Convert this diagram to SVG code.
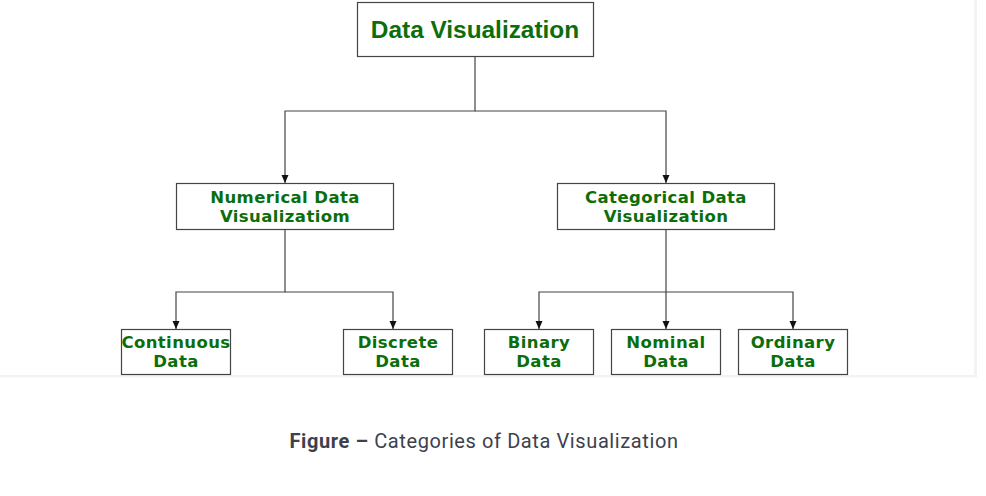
<svg xmlns="http://www.w3.org/2000/svg" width="986" height="496" viewBox="0 0 986 496">
<style>
.box{fill:#fff;stroke:#444;stroke-width:1.2}
.t{font-family:"DejaVu Sans",Verdana,sans-serif;font-weight:bold;font-size:16.5px;letter-spacing:0.4px;fill:#0b6e0b;text-anchor:middle}
.top{font-family:"Liberation Sans",Arial,sans-serif;font-weight:bold;font-size:24.4px;fill:#0b6e0b;text-anchor:middle}
.c{fill:none;stroke:#444;stroke-width:1.2}
.cap{font-family:Roboto,"Noto Sans",sans-serif;font-size:20px;letter-spacing:0.6px;fill:#3d414d}
</style>
<defs>
<marker id="ah" viewBox="0 0 8 8" refX="8" refY="4" markerWidth="8" markerHeight="8" markerUnits="userSpaceOnUse" orient="auto">
<path d="M0,0.5 L8,4 L0,7.5 Z" fill="#111"/>
</marker>
</defs>
<rect x="0" y="0" width="986" height="496" fill="#fff"/>
<rect x="974" y="0" width="3" height="376" fill="#f3f3f3"/>
<rect x="0" y="374.5" width="977" height="3" fill="#f3f3f3"/>
<rect x="0" y="0" width="974" height="375" fill="#fff"/>
<g id="connectors">
<path class="c" d="M475,56 V111 H285 V183" marker-end="url(#ah)"/>
<path class="c" d="M475,111 H666 V183" marker-end="url(#ah)"/>
<path class="c" d="M285,229 V292 H176 V329" marker-end="url(#ah)"/>
<path class="c" d="M285,292 H393 V329" marker-end="url(#ah)"/>
<path class="c" d="M666,229 V329" marker-end="url(#ah)"/>
<path class="c" d="M666,292 H539 V329" marker-end="url(#ah)"/>
<path class="c" d="M666,292 H793 V329" marker-end="url(#ah)"/>
</g>
<g id="root">
<rect class="box" x="357.5" y="2.5" width="236" height="54"/>
<text class="top" x="475" y="38">Data Visualization</text>
</g>
<g id="numerical">
<rect class="box" x="176.5" y="183.5" width="217" height="46"/>
<text class="t" x="285" y="203">Numerical Data</text>
<text class="t" x="285" y="222">Visualizatiom</text>
</g>
<g id="categorical">
<rect class="box" x="557.5" y="183.5" width="217" height="46"/>
<text class="t" x="666" y="203">Categorical Data</text>
<text class="t" x="666" y="222">Visualization</text>
</g>
<g id="continuous">
<rect class="box" x="121.5" y="329.5" width="109" height="45"/>
<text class="t" x="176" y="348">Continuous</text>
<text class="t" x="176" y="367">Data</text>
</g>
<g id="discrete">
<rect class="box" x="343.5" y="329.5" width="109" height="45"/>
<text class="t" x="398" y="348">Discrete</text>
<text class="t" x="398" y="367">Data</text>
</g>
<g id="binary">
<rect class="box" x="484.5" y="329.5" width="109" height="45"/>
<text class="t" x="539" y="348">Binary</text>
<text class="t" x="539" y="367">Data</text>
</g>
<g id="nominal">
<rect class="box" x="611.5" y="329.5" width="109" height="45"/>
<text class="t" x="666" y="348">Nominal</text>
<text class="t" x="666" y="367">Data</text>
</g>
<g id="ordinary">
<rect class="box" x="738.5" y="329.5" width="109" height="45"/>
<text class="t" x="793" y="348">Ordinary</text>
<text class="t" x="793" y="367">Data</text>
</g>
<text class="cap" x="484" y="448" text-anchor="middle"><tspan font-weight="bold">Figure –</tspan> Categories of Data Visualization</text>
</svg>
